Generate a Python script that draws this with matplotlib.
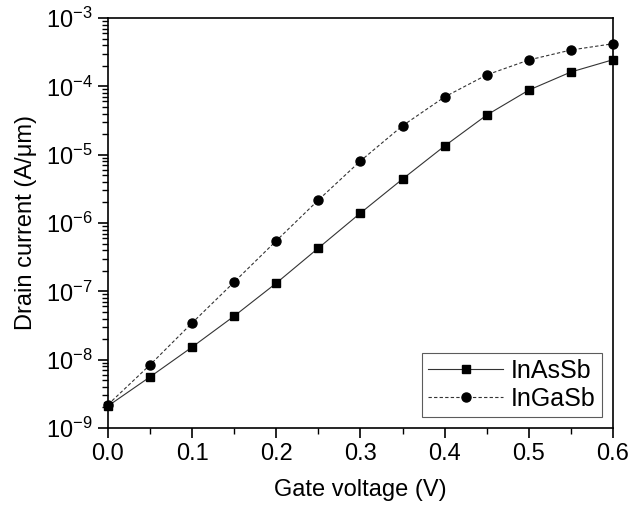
import matplotlib
matplotlib.use("Agg")
import matplotlib.pyplot as plt
from matplotlib.ticker import LogLocator, MultipleLocator, NullFormatter

plt.rcParams['font.family'] = ['Liberation Sans', 'DejaVu Sans']
plt.rcParams['mathtext.fontset'] = 'custom'
plt.rcParams['mathtext.rm'] = 'Liberation Sans'
plt.rcParams['mathtext.it'] = 'Liberation Sans:italic'
plt.rcParams['mathtext.bf'] = 'Liberation Sans:bold'

# === Dati ===
gate_v = [0.0, 0.05, 0.10, 0.15, 0.20, 0.25, 0.30, 0.35, 0.40, 0.45, 0.50, 0.55, 0.60]
id_inassb = [2.1e-9, 5.6e-9, 1.53e-8, 4.35e-8, 1.32e-7, 4.3e-7, 1.4e-6, 4.4e-6,
             1.34e-5, 3.8e-5, 8.8e-5, 1.62e-4, 2.45e-4]
id_ingasb = [2.2e-9, 8.4e-9, 3.45e-8, 1.37e-7, 5.5e-7, 2.17e-6, 8.1e-6, 2.65e-5,
             7.0e-5, 1.47e-4, 2.43e-4, 3.4e-4, 4.2e-4]

fig = plt.figure(figsize=(6.3, 5.14), dpi=100)
ax = fig.add_axes([0.1714, 0.1673, 0.8016, 0.7977])

ax.plot(gate_v, id_inassb, '-', color='#333333', lw=0.8, marker='s', ms=6,
        mfc='black', mec='black', label='InAsSb', clip_on=False, zorder=3)
ax.plot(gate_v, id_ingasb, '--', color='#333333', lw=0.8, dashes=(3, 2), marker='o', ms=6.5,
        mfc='black', mec='black', label='InGaSb', clip_on=False, zorder=3)

ax.set_yscale('log')
ax.set_xlim(0, 0.6)
ax.set_ylim(1e-9, 1e-3)

ax.xaxis.set_major_locator(MultipleLocator(0.1))
ax.xaxis.set_minor_locator(MultipleLocator(0.05))
ax.xaxis.set_major_formatter(plt.FuncFormatter(lambda v, p: f"{v:.1f}"))
ax.yaxis.set_major_locator(LogLocator(base=10, numticks=10))
ax.yaxis.set_minor_locator(LogLocator(base=10, subs=range(2, 10), numticks=20))
ax.yaxis.set_minor_formatter(NullFormatter())

ax.tick_params(which='major', direction='out', length=7, width=1.2, labelsize=17, pad=4)
ax.tick_params(which='minor', direction='out', length=4, width=1.0)
for s in ax.spines.values():
    s.set_linewidth(1.2)

ax.set_xlabel('Gate voltage (V)', fontsize=17, labelpad=10)
ax.set_ylabel('Drain current (A/\u03bcm)', fontsize=17, labelpad=6)

leg = ax.legend(loc='lower right', fontsize=18, frameon=True, fancybox=False,
                edgecolor='#333333', handlelength=3.0, handletextpad=0.3,
                borderpad=0.25, labelspacing=0.15, borderaxespad=0.45)
leg.get_frame().set_linewidth(0.8)

fig.savefig('out.png', dpi=100)
